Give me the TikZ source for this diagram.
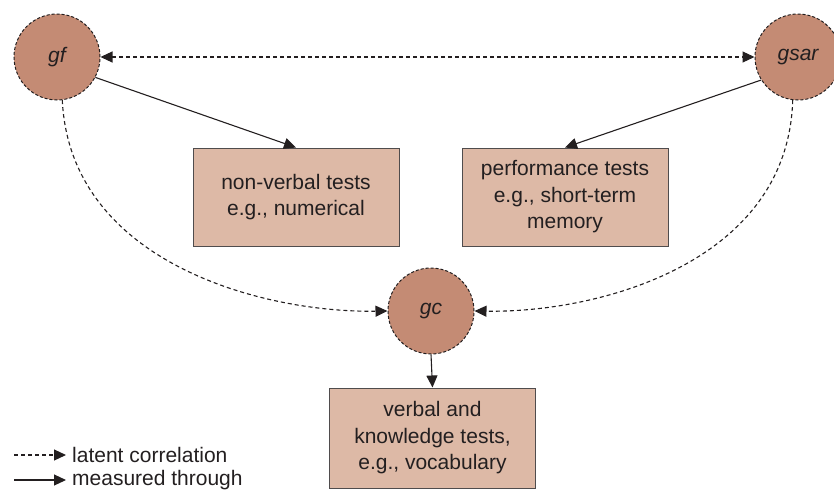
\documentclass[tikz,border=0pt]{standalone}
\usepackage{fontspec}
\setmainfont{Liberation Sans}
\usetikzlibrary{arrows.meta}
\definecolor{latentfill}{RGB}{196,139,116}
\definecolor{testfill}{RGB}{221,185,166}
\definecolor{inkc}{RGB}{35,31,32}
\begin{document}
\begin{tikzpicture}[x=1pt,y=-1pt,
  latent/.style={circle,draw=inkc,fill=latentfill,dashed,dash pattern=on 3pt off 2pt,line width=1pt,minimum size=86pt,inner sep=0pt,font=\fontsize{21}{24}\selectfont\itshape,text=inkc},
  testbox/.style={draw=inkc!80,fill=testfill,line width=1pt,minimum width=206pt,minimum height=98pt,align=center,font=\fontsize{21}{26.5}\selectfont,text=inkc},
  tip/.style={-{Triangle[length=12pt,width=11pt]}},
  corr/.style={tip,draw=inkc,line width=1.1pt,dash pattern=on 4pt off 3pt},
  meas/.style={tip,draw=inkc,line width=1.1pt},
  legtext/.style={anchor=west,font=\fontsize{21}{24}\selectfont,text=inkc,inner sep=0pt}]
\useasboundingbox (0,0) rectangle (834,490);

% latent factors
\node[latent] (gf) at (57,57) {gf};
\node[latent] (gsar) at (798,57) {gsar};
\node[latent] (gc) at (431,311) {gc};

% observed tests
\node[testbox] (nv) at (296,197) {non-verbal tests\\e.g., numerical};
\node[testbox] (pf) at (565,197) {performance tests\\e.g., short-term\\memory};
\node[testbox,minimum height=100pt] (vb) at (432.5,438) {verbal and\\knowledge tests,\\e.g., vocabulary};

% correlations between factors
\draw[corr,{Triangle[length=12pt,width=11pt]}-{Triangle[length=12pt,width=11pt]}] (gf) -- (gsar);
\draw[corr] (gf.-83) .. controls (70,262) and (262,313) .. (gc.west);
\draw[corr] (gsar.-97) .. controls (788,262) and (600,313) .. (gc.east);

% factors measured through tests
\draw[meas] (gf.-28) -- (nv.north);
\draw[meas] (gsar.-148) -- (pf.north);
\draw[meas] (gc.south) -- (vb.north);

% legend
\coordinate (l1a) at (14,455);
\coordinate (l1b) at (66,455);
\coordinate (l2a) at (14,480);
\coordinate (l2b) at (66,480);
\draw[corr] (l1a) -- (l1b);
\draw[meas] (l2a) -- (l2b);
\node[legtext] (lt1) at (72,455) {latent correlation};
\node[legtext] (lt2) at (72,480) {measured through};
\end{tikzpicture}
\end{document}
